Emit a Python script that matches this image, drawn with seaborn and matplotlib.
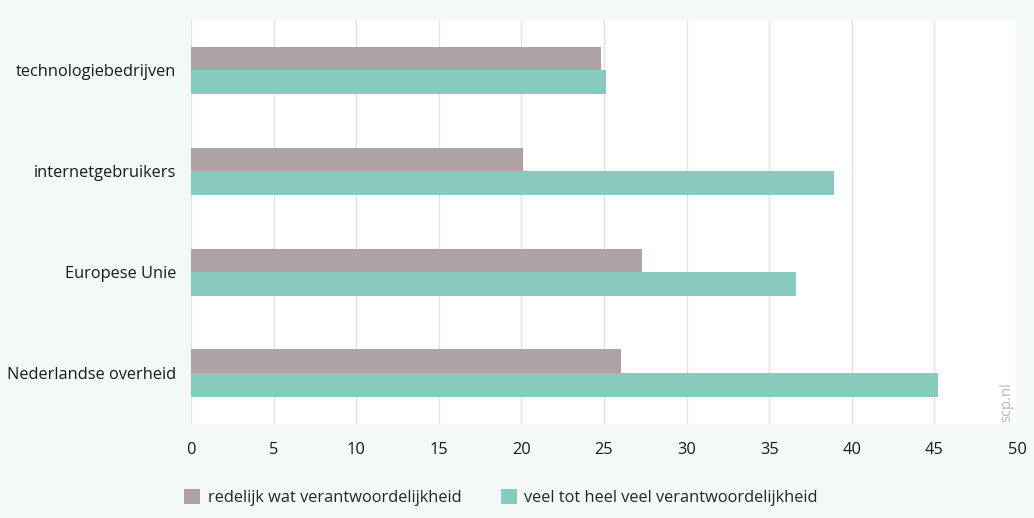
import numpy as np
import pandas as pd
import matplotlib.pyplot as plt
import seaborn as sns

categories = ["technologiebedrijven", "internetgebruikers", "Europese Unie", "Nederlandse overheid"]
series_names = ["redelijk wat verantwoordelijkheid", "veel tot heel veel verantwoordelijkheid"]
redelijk = [24.8, 20.1, 27.3, 26.0]
veel = [25.1, 38.9, 36.6, 45.2]
x_ticks = [0, 5, 10, 15, 20, 25, 30, 35, 40, 45, 50]

df = pd.DataFrame({
    "categorie": categories * 2,
    "reeks": [series_names[0]] * len(categories) + [series_names[1]] * len(categories),
    "waarde": redelijk + veel,
})

sns.set_theme(style="white")
plt.rcParams['font.family'] = ['Open Sans', 'DejaVu Sans']

bg = "#f2f9f6"
colors = ["#ada3a5", "#87cbbf"]

fig = plt.figure(figsize=(10.34, 5.18), dpi=100, facecolor=bg)
ax = fig.add_axes([0.1847, 0.1815, 0.7989, 0.7799])
ax.set_facecolor("white")

sns.barplot(data=df, y="categorie", x="waarde", hue="reeks", order=categories,
            hue_order=series_names, palette=colors, width=0.475, orient="h",
            saturation=1, linewidth=0, ax=ax, legend=True)

ax.set_xlim(0, 50)
ax.set_xticks(x_ticks)
ax.set_xlabel("")
ax.set_ylabel("")
ax.grid(axis="x", color="#e2e2e2", linewidth=1)
ax.set_axisbelow(True)
for s in ax.spines.values():
    s.set_visible(False)
ax.tick_params(axis="both", length=0, labelsize=11.75, colors="#1a1a1a")
ax.tick_params(axis="y", pad=10.5)
ax.tick_params(axis="x", pad=13)

handles, labels = ax.get_legend_handles_labels()
ax.get_legend().remove()
fig.legend(handles, labels, loc="center", bbox_to_anchor=(0.4845, 0.039), ncol=2,
           frameon=False, fontsize=11.75, handlelength=1.0, handleheight=1.0,
           handletextpad=0.45, columnspacing=2.4)

ax.text(0.987, 0.005, "scp.nl", transform=ax.transAxes, rotation=90, ha="center",
        va="bottom", fontsize=10.5, color="#b8b8b8")

fig.savefig("out.png", dpi=100, facecolor=bg)
